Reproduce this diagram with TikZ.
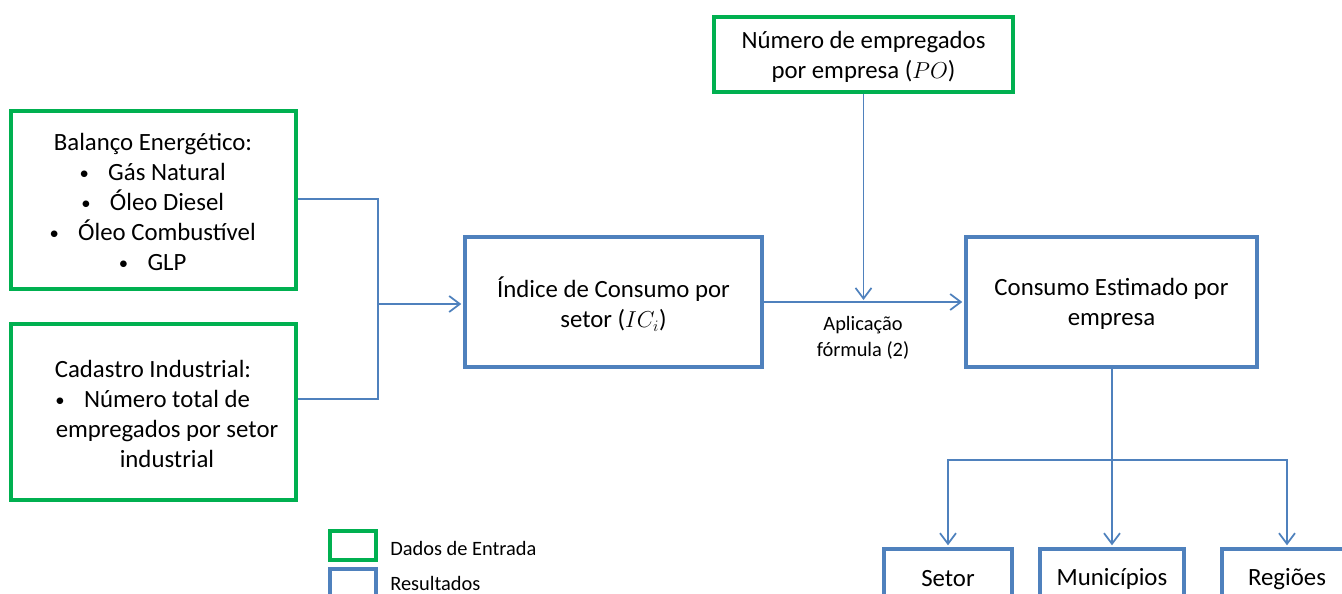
\documentclass[tikz,border=0pt]{standalone}
\usepackage{fontspec}
\setmainfont{Carlito}
\usetikzlibrary{arrows.meta}
\definecolor{boxgreen}{RGB}{0,176,80}
\definecolor{boxblue}{RGB}{79,129,189}
\newcommand{\itembul}{\llap{\raisebox{1.1pt}{\fontsize{14}{14}\selectfont\textbullet}\hspace{14.5pt}}}
\begin{document}
\begin{tikzpicture}[x=0.75pt,y=-0.75pt,
  sz/.style 2 args={minimum width=#1*0.75pt, minimum height=#2*0.75pt, inner sep=0pt},
  inbox/.style={draw=boxgreen, line width=2.6pt},
  outbox/.style={draw=boxblue, line width=2.6pt},
  maintext/.style={font=\fontsize{18.6}{22.5}\selectfont, align=center, inner sep=0pt},
  smalltext/.style={font=\fontsize{15.3}{19.5}\selectfont, inner sep=0pt},
  conn/.style={draw=boxblue, line width=1.3pt},
  arr/.style={conn, -{Straight Barb[length=8pt,width=12pt]}, shorten >=1.5pt}]
\useasboundingbox (0,0) rectangle (1342,593);
\clip (0,0) rectangle (1342,593);

% input boxes
\node[inbox, sz={285}{178}] (bal) at (153.5,200) {};
\node[maintext] (baltxt) at (167,202) {Balanço Energético:\hspace*{21pt}\\
  \itembul Gás Natural\\ \itembul Óleo Diesel\\ \itembul Óleo Combustível\\ \itembul GLP};
\node[inbox, sz={285}{176}] (cad) at (153.5,412) {};
\node[maintext] (cadtxt) at (167,414) {Cadastro Industrial:\hspace*{21pt}\\
  \itembul Número total de\\ empregados por setor\\ industrial};
\node[inbox, sz={299}{75}] (po) at (863.5,54.5) {};
\node[maintext] (potxt) at (863.5,56.5) {Número de empregados\\ por empresa ($PO$)};

% result boxes
\node[outbox, sz={297}{130}] (idx) at (613.5,302) {};
\node[maintext] (idxtxt) at (613.5,304) {Índice de Consumo por\\ setor ($IC_i$)};
\node[outbox, sz={291}{130}] (cons) at (1111.5,302) {};
\node[maintext] (constxt) at (1111.5,304) {Consumo Estimado por\\ empresa};
\node[outbox, sz={128}{60}, maintext] (setor) at (948,579) {Setor};
\node[outbox, sz={144}{60}, maintext] (mun) at (1112,579) {Municípios};
\node[outbox, sz={130}{60}, maintext] (reg) at (1287,579) {Regiões};

% connectors left
\coordinate (jl) at (378,304);
\draw[conn] (bal.east |- 0,199) -| (jl);
\draw[conn] (cad.east |- 0,399) -| (jl);
\draw[arr] (jl) -- (idx.west |- jl);

% middle
\coordinate (m) at (po.south |- idx.east);
\draw[arr] (idx.east) -- (cons.west);
\draw[arr] (po.south) -- (m);
\node[smalltext, align=center] (apl) at (863,338) {Aplicação\\ fórmula (2)};

% bottom tree
\coordinate (jb) at (1112,460);
\draw[conn] (cons.south -| jb) -- (jb);
\draw[arr] (jb) -| (setor.north);
\draw[arr] (jb) -- (mun.north);
\draw[arr] (jb) -| (reg.north);

% legend
\node[inbox, sz={46}{29}] (lg) at (353,545.5) {};
\node[outbox, sz={46}{31}] (lb) at (353,584.5) {};
\node[smalltext, anchor=west] (lgt) at (390,548) {Dados de Entrada};
\node[smalltext, anchor=west] (lbt) at (390,583) {Resultados};
\end{tikzpicture}
\end{document}
